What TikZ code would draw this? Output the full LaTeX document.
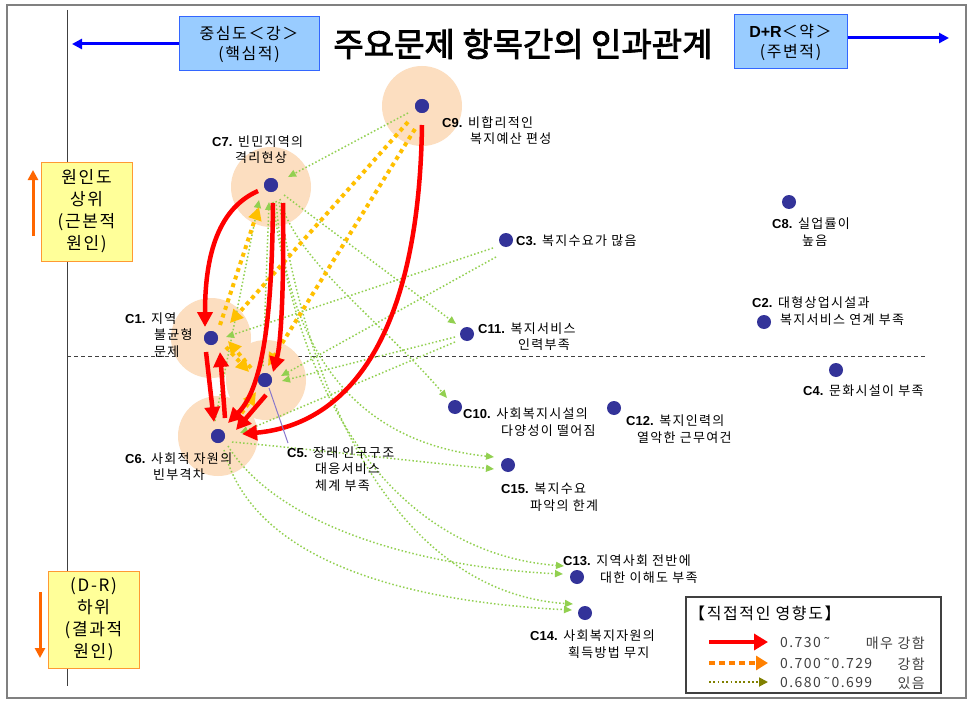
\documentclass[tikz,border=0pt]{standalone}
\usepackage{fontspec}
\setmainfont{Liberation Sans}
\newfontfamily\lat{Liberation Sans}
\newfontfamily\kr[LetterSpace=10]{Noto Sans CJK KR}
\newfontfamily\krn{Noto Sans CJK KR}
\newfontfamily\krb[FakeBold=2.5]{Noto Sans CJK KR}
\usetikzlibrary{arrows.meta,calc}
\definecolor{haloc}{RGB}{252,222,192}
\definecolor{dotc}{RGB}{51,51,153}
\definecolor{redc}{RGB}{255,0,0}
\definecolor{orc}{RGB}{255,192,0}
\definecolor{grc}{RGB}{146,208,80}
\definecolor{bluefill}{RGB}{153,204,255}
\definecolor{blueborder}{RGB}{51,102,255}
\definecolor{yfill}{RGB}{255,255,153}
\definecolor{yborder}{RGB}{255,153,51}
\definecolor{arrorange}{RGB}{255,102,0}
\definecolor{oliv}{RGB}{128,128,0}
\definecolor{leadc}{RGB}{136,119,204}
\definecolor{txtgray}{RGB}{64,64,64}
\tikzset{
  dot/.style={circle,fill=dotc,inner sep=0pt,minimum size=14pt},
  halo/.style={circle,fill=haloc,inner sep=0pt,minimum size=80pt},
  lbl/.style={anchor=base west,inner sep=0pt,align=left,font=\kr\fontsize{13}{16.5}\selectfont},
  redarr/.style={draw=redc,line width=4.5pt,-{Triangle[length=15pt,width=15pt]}},
  orarr/.style={draw=orc,line width=4pt,dash pattern=on 4pt off 4pt,-{Triangle[length=13pt,width=13pt]}},
  grarr/.style={draw=grc,line width=1.5pt,dash pattern=on 1.5pt off 2.2pt,-{Triangle[length=8pt,width=7pt]}},
  bluebox/.style={draw=blueborder,fill=bluefill,line width=1pt,inner sep=0pt,align=center,font=\kr\fontsize{16}{20}\selectfont},
  ybox/.style={draw=yborder,fill=yfill,line width=1pt,inner sep=0pt,align=center,font=\kr\fontsize{17}{22}\selectfont,minimum width=91pt},
  bluearr/.style={draw=blue,line width=3pt,-{Triangle[length=10pt,width=10pt]}},
  oarr/.style={draw=arrorange,line width=3pt,-{Triangle[length=10pt,width=10pt]}},
  legtxt/.style={inner sep=0pt,text=txtgray,font=\kr\fontsize{14}{16}\selectfont},
}
\begin{document}
\begin{tikzpicture}[x=1pt,y=-1pt]
\useasboundingbox (0,0) rectangle (970,701);
\fill[white] (0,0) rectangle (970,701);
% frame and axes
\draw[draw=gray,line width=1.5pt] (7,5) rectangle (966,698);
\draw[draw=txtgray,line width=1pt] (67,10) -- (67,686);
\draw[draw=txtgray,line width=1pt,dash pattern=on 4pt off 3pt] (67,356) -- (925,356);
% halos
\node[halo] (h9) at (422,106) {};
\node[halo] (h7) at (271,187) {};
\node[halo] (h1) at (211,338) {};
\node[halo] (h5) at (266,380) {};
\node[halo] (h6) at (218,436) {};
% dots
\node[dot] (c9) at (422,106) {};
\node[dot] (c7) at (271,185) {};
\node[dot] (c1) at (211,338) {};
\node[dot] (c5) at (265,380) {};
\node[dot] (c6) at (218,436) {};
\node[dot] (c3) at (506,240) {};
\node[dot] (c11) at (467,334) {};
\node[dot] (c10) at (455,407) {};
\node[dot] (c12) at (614,408) {};
\node[dot] (c15) at (508,465) {};
\node[dot] (c13) at (577,577) {};
\node[dot] (c14) at (585,613) {};
\node[dot] (c8) at (789,202) {};
\node[dot] (c2) at (764,322) {};
\node[dot] (c4) at (836,370) {};
% green dotted
\draw[grarr] ($(c9)+(-14,7)$) -- ($(c7)+(17,-8)$);
\draw[grarr] ($(c3)+(-13,8)$) -- ($(c1)+(15,-1)$);
\draw[grarr] ($(c3)+(-10,17)$) -- ($(c5)+(16,-4)$);
\draw[grarr] ($(c11)+(-12,3)$) -- ($(c5)+(17,1)$);
\draw[grarr] ($(c11)+(-12,8)$) -- ($(c6)+(22,-3)$);
\draw[grarr] ($(c7)+(13,10)$) -- ($(c11)+(-11,-10)$);
\draw[grarr] ($(c7)+(9,14)$) .. controls (295,260) and (380,320) .. ($(c10)+(-8,-9)$);
\draw[grarr] ($(c7)+(5,16)$) .. controls (290,380) and (380,445) .. ($(c15)+(-14,-8)$);
\draw[grarr] ($(c6)+(14,6)$) .. controls (300,448) and (420,462) .. ($(c15)+(-14,4)$);
\draw[grarr] ($(c7)+(2,17)$) .. controls (305,440) and (420,555) .. ($(c13)+(-13,-11)$);
\draw[grarr] ($(c7)+(8,17)$) .. controls (320,460) and (430,595) .. ($(c14)+(-12,-9)$);
\draw[grarr] ($(c6)+(10,10)$) .. controls (280,530) and (430,568) .. ($(c13)+(-14,-3)$);
\draw[grarr] ($(c6)+(6,14)$) .. controls (255,570) and (430,603) .. ($(c14)+(-13,-3)$);
\draw[grarr] ($(c6)+(-3,-15)$) -- ($(c7)+(-12,15)$);
\draw[grarr] ($(c5)+(-2,-14)$) -- ($(c7)+(-2,17)$);
% orange dashed
\draw[orarr] ($(c9)+(-14,16)$) -- ($(c1)+(19,-15)$);
\draw[orarr] ($(c9)+(-7,23)$) -- ($(c5)+(3,-14)$);
\draw[orarr] ($(c1)+(9,-13)$) -- ($(c7)+(-12,22)$);
\draw[orarr] ($(c1)+(15,9)$) -- ($(c5)+(-16,-8)$);
\draw[orarr] ($(c5)+(-14,-12)$) -- ($(c1)+(17,3)$);
\draw[orarr] ($(c6)+(19,-16)$) -- ($(c5)+(-9,12)$);
% red
\draw[redarr] ($(c7)+(-13,6)$) .. controls (215,210) and (205,262) .. ($(c1)+(-6,-11)$);
\draw[redarr] ($(c7)+(2,18)$) .. controls (272,300) and (266,385) .. ($(c6)+(10,-13)$);
\draw[redarr] ($(c7)+(12,18)$) .. controls (284,270) and (282,340) .. ($(c5)+(8,-8)$);
\draw[redarr] ($(c9)+(0,19)$) .. controls (418,390) and (310,428) .. ($(c6)+(24,-2)$);
\draw[redarr] ($(c1)+(-5,14)$) -- ($(c6)+(-4,-14)$);
\draw[redarr] ($(c6)+(7,-18)$) -- ($(c1)+(9,14)$);
\draw[redarr] ($(c5)+(1,15)$) -- ($(c6)+(18,-6)$);
% dots again on top
\foreach \n in {c9,c7,c1,c5,c6} {\fill[dotc] (\n) circle (7pt);}
% labels
\node[lbl] (l9) at (442,143.5) {{\lat\bfseries C9.} 비합리적인\\\hspace*{28pt}복지예산 편성};
\node[lbl] (l7) at (212,162.5) {{\lat\bfseries C7.} 빈민지역의\\\hspace*{23pt}격리현상};
\node[lbl] (l1) at (125,356) {{\lat\bfseries C1.} 지역\\\hspace*{29pt}불균형\\\hspace*{29pt}문제};
\node[lbl] (l6) at (125,479.5) {{\lat\bfseries C6.} 사회적 자원의\\\hspace*{28pt}빈부격차};
\node[lbl] (l5) at (287,490) {{\lat\bfseries C5.} 장래 인구구조\\\hspace*{28pt}대응서비스\\\hspace*{28pt}체계 부족};
\draw[draw=leadc,line width=1pt] ($(c5)+(4,8)$) -- ($(l5.north west)+(1,-3)$);
\node[lbl] (l3) at (516,245) {{\lat\bfseries C3.} 복지수요가 많음};
\node[lbl] (l11) at (478,349.5) {{\lat\bfseries C11.} 복지서비스\\\hspace*{40pt}인력부족};
\node[lbl] (l10) at (463,435) {{\lat\bfseries C10.} 사회복지시설의\\\hspace*{38pt}다양성이 떨어짐};
\node[lbl] (l12) at (626,442) {{\lat\bfseries C12.} 복지인력의\\\hspace*{11pt}열악한 근무여건};
\node[lbl] (l15) at (501,510) {{\lat\bfseries C15.} 복지수요\\\hspace*{29pt}파악의 한계};
\node[lbl] (l13) at (563,582) {{\lat\bfseries C13.} 지역사회 전반에\\\hspace*{37pt}대한 이해도 부족};
\node[lbl] (l14) at (530,657) {{\lat\bfseries C14.} 사회복지자원의\\\hspace*{38pt}획득방법 무지};
\node[lbl] (l8) at (772,245) {{\lat\bfseries C8.} 실업률이\\\hspace*{30pt}높음};
\node[lbl] (l2) at (752,324) {{\lat\bfseries C2.} 대형상업시설과\\\hspace*{28pt}복지서비스 연계 부족};
\node[lbl] (l4) at (803,395) {{\lat\bfseries C4.} 문화시설이 부족};
% title and boxes
\node[inner sep=0pt,font=\krb\fontsize{33}{38}\selectfont] (title) at (523,44) {주요문제 항목간의 인과관계};
\node[bluebox,minimum width=140pt,minimum height=54pt] (bl) at (249,44) {중심도＜강＞\\(핵심적)};
\node[bluebox,minimum width=113pt,minimum height=54pt] (br) at (790.5,42) {{\lat\bfseries D+R}＜약＞\\(주변적)};
\coordinate (blend) at (72,44);
\coordinate (brend) at (949,38);
\draw[bluearr] (bl.west) -- (blend);
\draw[bluearr] (br.east |- 0,38) -- (brend);
\node[ybox,minimum height=99pt] (yt) at (86.5,211.5) {원인도\\상위\\(근본적\\원인)};
\node[ybox,minimum height=97pt] (yb) at (93.5,619.5) {(D-R)\\하위\\(결과적\\원인)};
\coordinate (ot1) at (33,236); \coordinate (ot2) at (33,170);
\coordinate (ob1) at (40,592); \coordinate (ob2) at (40,658);
\draw[oarr] (ot1) -- (ot2);
\draw[oarr] (ob1) -- (ob2);
% legend
\node[draw=txtgray,line width=1.2pt,minimum width=255pt,minimum height=96pt,inner sep=0pt] (leg) at (813.5,645) {};
\node[anchor=west,inner sep=0pt,font=\kr\fontsize{16}{18}\selectfont] (legt) at (689,613) {【직접적인 영향도】};
\draw[redarr,-{Triangle[length=14pt,width=16pt]}] (709,642) -- (768,642);
\draw[draw=orange,line width=4pt,dash pattern=on 6pt off 4pt,-{Triangle[length=12pt,width=14pt]}] (709,663) -- (768,663);
\draw[draw=oliv,line width=1.8pt,dash pattern=on 1.8pt off 2.5pt,-{Triangle[length=9pt,width=9pt]}] (709,682) -- (768,682);
\node[legtxt,anchor=west] (r1a) at (780,643) {0.730{\lat\ ˜}};
\node[legtxt,anchor=east] (r1b) at (925,643) {매우 강함};
\node[legtxt,anchor=west] (r2a) at (780,664) {0.700{\lat\ ˜\,}0.729};
\node[legtxt,anchor=east] (r2b) at (925,664) {강함};
\node[legtxt,anchor=west] (r3a) at (780,683) {0.680{\lat\ ˜\,}0.699};
\node[legtxt,anchor=east] (r3b) at (925,683) {있음};
\end{tikzpicture}
\end{document}
